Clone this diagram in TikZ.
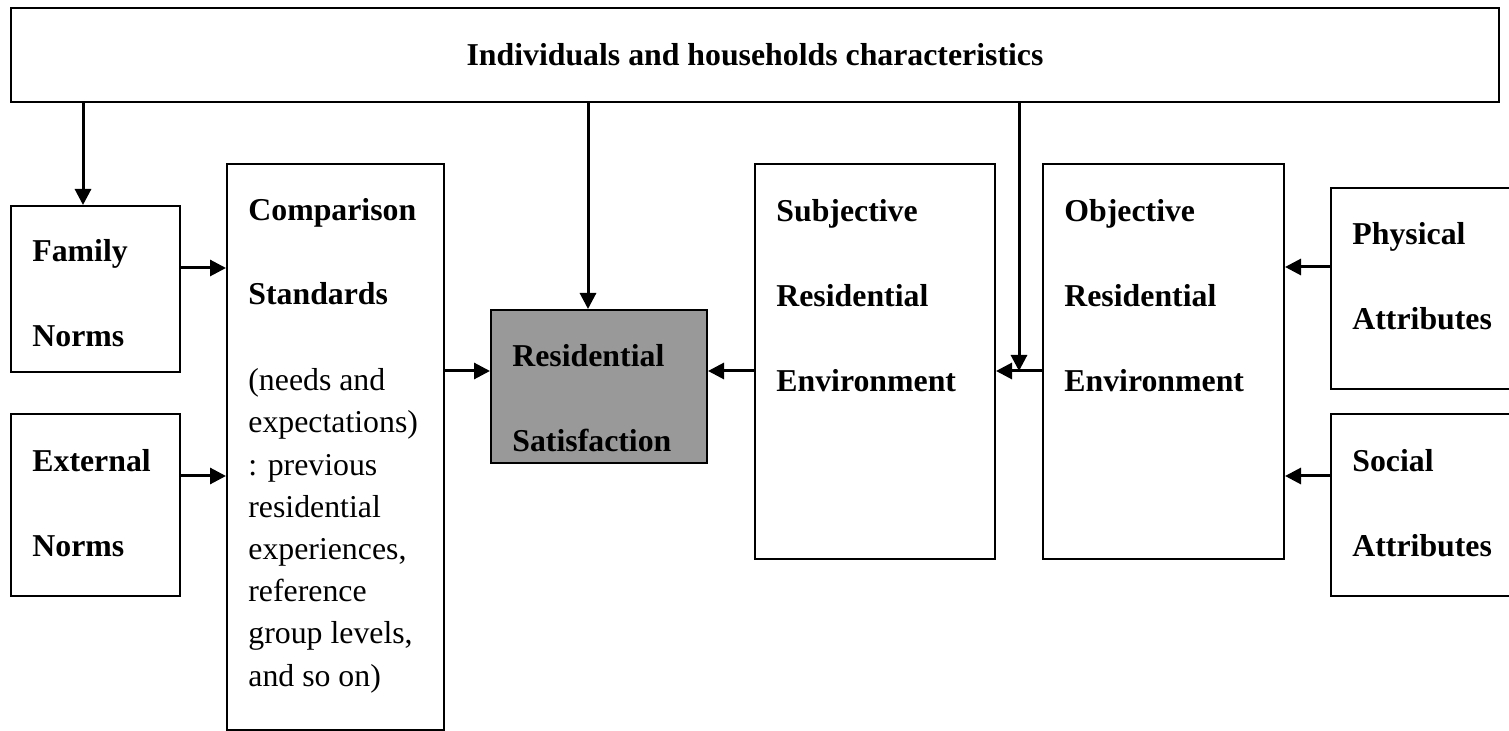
\documentclass[tikz,border=0pt]{standalone}
\usepackage{fontspec}
\setmainfont{Liberation Serif}
\usetikzlibrary{arrows.meta,fit,calc}

\begin{document}
\begin{tikzpicture}[x=0.5pt,y=-0.5pt,>={Triangle[length=8pt,width=8pt]},
  box/.style={draw,line width=1pt,inner sep=0pt},
  txt/.style={anchor=base west,align=left,inner sep=0pt,
    font=\fontsize{15.9}{42.5}\selectfont\bfseries},
  arr/.style={->,line width=1.5pt}]
\useasboundingbox (0,0) rectangle (1509,731);
% boxes
\node[box,fit={(11,8)(1499,102)}] (top) {};
\node[box,fit={(11,206)(180,372)}] (fam) {};
\node[box,fit={(11,414)(180,596)}] (ext) {};
\node[box,fit={(227,164)(444,730)}] (comp) {};
\node[box,fill=black!40,fit={(491,310)(707,463)}] (rs) {};
\node[box,fit={(755,164)(995,559)}] (subj) {};
\node[box,fit={(1043,164)(1284,559)}] (obj) {};
\node[box,fit={(1331,188)(1530,389)}] (phys) {};
\node[box,fit={(1331,414)(1530,596)}] (soc) {};
% texts (placed at the baseline of their last line)
\node[txt,anchor=base] (toptxt) at (755,66) {Individuals and households characteristics};
\node[txt] (famtxt) at (32,347) {Family\\Norms};
\node[txt] (exttxt) at (32,556) {External\\Norms};
\node[txt,font=\fontsize{15.9}{21.1}\selectfont] (comptxt) at (248,686)
  {\textbf{Comparison}\\[20.9pt]\textbf{Standards}\\[21.9pt](needs and\\expectations)\\: previous\\residential\\experiences,\\reference\\group levels,\\and so on)};
\node[txt] (rstxt) at (512,452) {Residential\\Satisfaction};
\node[txt] (subjtxt) at (776,392) {Subjective\\Residential\\Environment};
\node[txt] (objtxt) at (1064,392) {Objective\\Residential\\Environment};
\node[txt] (phystxt) at (1352,330) {Physical\\Attributes};
\node[txt] (soctxt) at (1352,556) {Social\\Attributes};
% where the arrows run
\coordinate (dropA) at (83,0);
\coordinate (dropB) at (588,0);
\coordinate (dropC) at (1019,0);
\coordinate (rowA) at (0,268);
\coordinate (rowB) at (0,371);
\coordinate (rowC) at (0,476);
\coordinate (rowD) at (0,267);
% arrows
\draw[arr] (top.south -| dropA) -- (fam.north -| dropA);
\draw[arr] (top.south -| dropB) -- (rs.north -| dropB);
\draw[arr] (top.south -| dropC) -- (dropC |- rowB);
\draw[arr] (fam.east |- rowA) -- (comp.west |- rowA);
\draw[arr] (ext.east |- rowC) -- (comp.west |- rowC);
\draw[arr] (comp.east |- rowB) -- (rs.west |- rowB);
\draw[arr] (subj.west |- rowB) -- (rs.east |- rowB);
\draw[arr] (obj.west |- rowB) -- (subj.east |- rowB);
\draw[arr] (phys.west |- rowD) -- (obj.east |- rowD);
\draw[arr] (soc.west |- rowC) -- (obj.east |- rowC);
\end{tikzpicture}
\end{document}
